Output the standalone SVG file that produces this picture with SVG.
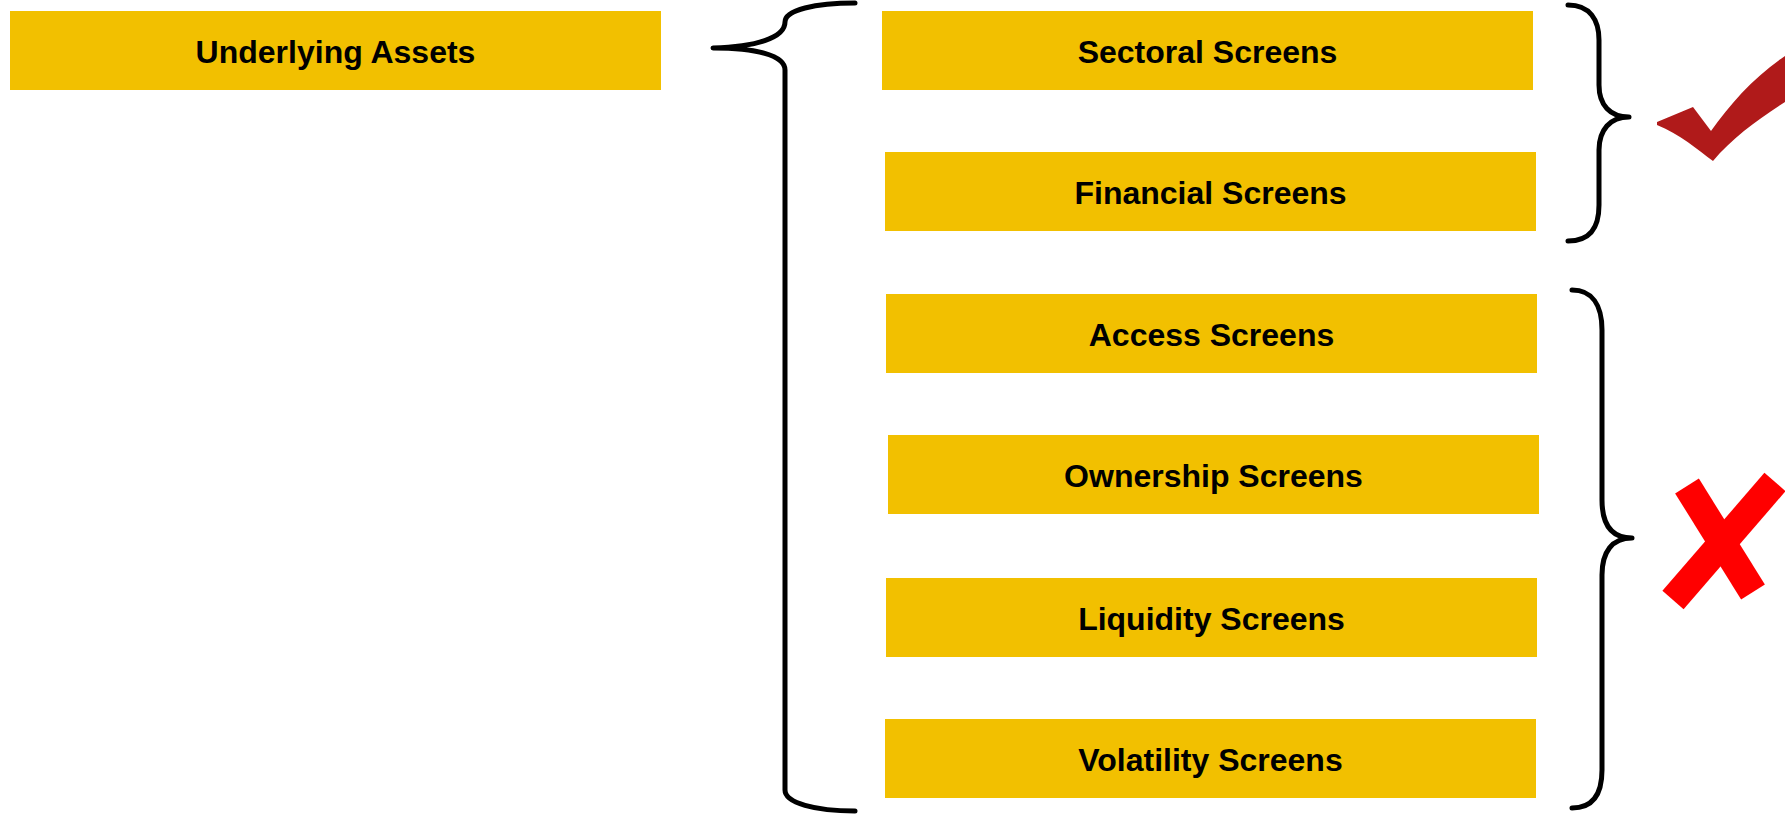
<svg xmlns="http://www.w3.org/2000/svg" width="1785" height="814" viewBox="0 0 1785 814">
<style>
.box{fill:#F2C000}
.lbl{font-family:"Liberation Sans",Arial,sans-serif;font-weight:bold;font-size:32px;fill:#000;text-anchor:middle;dominant-baseline:central}
.brace{fill:none;stroke:#000;stroke-width:5;stroke-linecap:round;stroke-linejoin:round}
</style>
<rect width="1785" height="814" fill="#fff"/>
<g id="underlying"><rect class="box" x="10" y="11" width="651" height="79"/><text class="lbl" x="335.5" y="52">Underlying Assets</text></g>
<g id="sectoral"><rect class="box" x="882" y="11" width="651" height="79"/><text class="lbl" x="1207.5" y="52">Sectoral Screens</text></g>
<g id="financial"><rect class="box" x="885" y="152" width="651" height="79"/><text class="lbl" x="1210.5" y="193">Financial Screens</text></g>
<g id="access"><rect class="box" x="886" y="294" width="651" height="79"/><text class="lbl" x="1211.5" y="335">Access Screens</text></g>
<g id="ownership"><rect class="box" x="888" y="435" width="651" height="79"/><text class="lbl" x="1213.5" y="476">Ownership Screens</text></g>
<g id="liquidity"><rect class="box" x="886" y="578" width="651" height="79"/><text class="lbl" x="1211.5" y="619">Liquidity Screens</text></g>
<g id="volatility"><rect class="box" x="885" y="719" width="651" height="79"/><text class="lbl" x="1210.5" y="760">Volatility Screens</text></g>
<g id="connectors">
<path class="brace" d="M855,3 C815,3 785,10 785,22 C785,38 755,47 713,48 C755,48 785,55 785,70 L785,790 C785,803 815,811 855,811"/>
<path class="brace" d="M1568,5 C1590,5 1599,20 1599,40 L1599,85 C1599,105 1610,117 1629,117 C1610,117 1599,130 1599,150 L1599,205 C1599,228 1590,241 1568,241"/>
<path class="brace" d="M1572,290 C1592,290 1602,305 1602,330 L1602,500 C1602,525 1612,538 1632,538 C1612,538 1602,552 1602,575 L1602,770 C1602,795 1592,808 1572,808"/>
</g>
<g id="check"><path fill="#B01A1A" d="M1657,122 L1693,107 L1711,131 C1730,104 1755,76 1785,56 L1785,102 C1760,118 1732,138 1713,161 C1698,150 1680,134 1657,125 Z"/></g>
<g id="cross" stroke="#FF0000" stroke-width="28" stroke-linecap="butt">
<line x1="1687" y1="486" x2="1753" y2="592"/>
<line x1="1775" y1="482" x2="1673" y2="600"/>
</g>
</svg>
